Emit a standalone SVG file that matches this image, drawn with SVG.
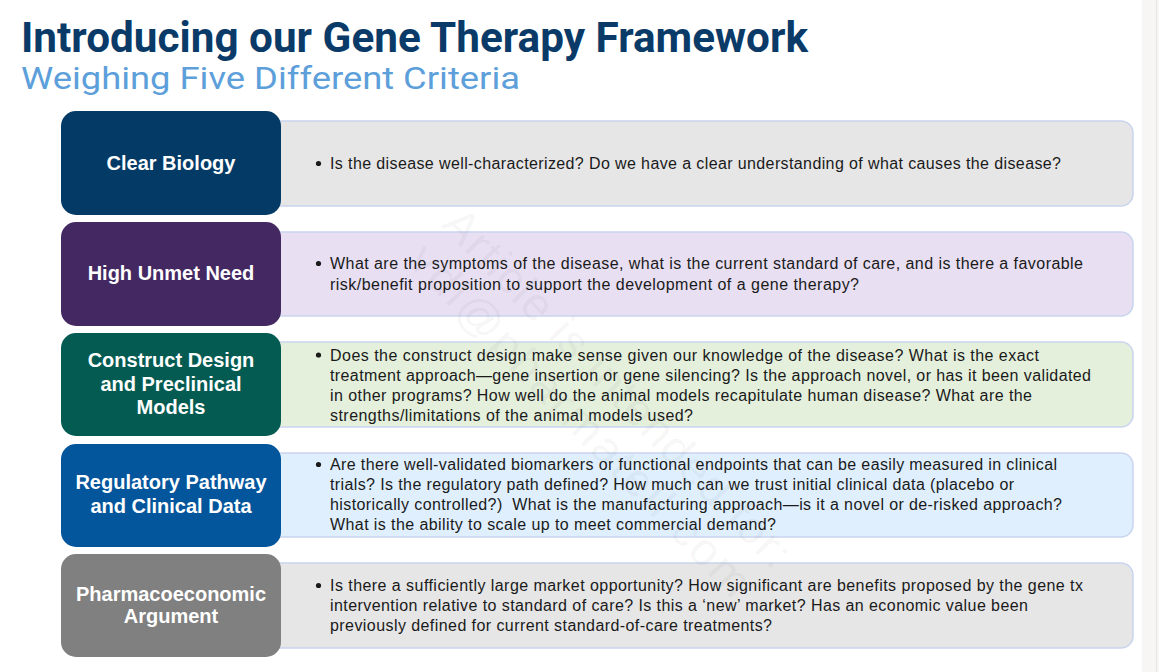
<svg xmlns="http://www.w3.org/2000/svg" width="1159" height="672" viewBox="0 0 1159 672">
<style>
.title{font-family:Roboto,"Liberation Sans",Arial,sans-serif;font-weight:700;font-size:42px;fill:#0a3a68}
.sub{font-family:Roboto,"Liberation Sans",Arial,sans-serif;font-weight:400;font-size:32px;fill:#5d9fda}
.lbl{font-family:"Liberation Sans",Arial,sans-serif;font-weight:700;font-size:20px;fill:#ffffff;text-anchor:middle}
.body{font-family:"Liberation Sans",Arial,sans-serif;font-size:16px;fill:#1a1a1a}
.card{stroke:#c9d5ee;stroke-width:1.5}
.wm{font-family:"Liberation Sans",Arial,sans-serif;font-size:46px;fill:#000000;fill-opacity:0.05}
</style>
<rect width="1159" height="672" fill="#ffffff"/>
<rect x="1142" y="0" width="17" height="672" fill="#f7f6f5"/>
<line x1="1156.5" y1="0" x2="1156.5" y2="672" stroke="#e6e5e3" stroke-width="1"/>

<g id="header">
<text class="title" x="21" y="52" textLength="787" lengthAdjust="spacingAndGlyphs">Introducing our Gene Therapy Framework</text>
<text class="sub" x="21" y="89" textLength="499" lengthAdjust="spacingAndGlyphs">Weighing Five Different Criteria</text>
</g>

<g id="row-clear-biology">
<rect class="card" x="262" y="121" width="871" height="85" rx="12" fill="#e6e6e6"/>
<rect x="61" y="111" width="220" height="104" rx="15" fill="#033a66"/>
<text class="lbl" x="171" y="170">Clear Biology</text>
<circle cx="318.5" cy="163.5" r="2.6" fill="#1a1a1a"/>
<text class="body" x="330" y="169" textLength="731">Is the disease well-characterized? Do we have a clear understanding of what causes the disease?</text>
</g>

<g id="row-high-unmet-need">
<rect class="card" x="262" y="232" width="871" height="84" rx="12" fill="#e8dff2"/>
<rect x="61" y="222" width="220" height="104" rx="15" fill="#432862"/>
<text class="lbl" x="171" y="280">High Unmet Need</text>
<circle cx="318.5" cy="263.5" r="2.6" fill="#1a1a1a"/>
<text class="body" x="330" y="269" textLength="753">What are the symptoms of the disease, what is the current standard of care, and is there a favorable</text>
<text class="body" x="330" y="290" textLength="529">risk/benefit proposition to support the development of a gene therapy?</text>
</g>

<g id="row-construct-design">
<rect class="card" x="262" y="342" width="871" height="85" rx="12" fill="#e4f0dc"/>
<rect x="61" y="333" width="220" height="103" rx="15" fill="#045b52"/>
<text class="lbl" x="171" y="367">Construct Design</text>
<text class="lbl" x="171" y="391">and Preclinical</text>
<text class="lbl" x="171" y="414">Models</text>
<circle cx="318.5" cy="355" r="2.6" fill="#1a1a1a"/>
<text class="body" x="330" y="360.5" textLength="709">Does the construct design make sense given our knowledge of the disease? What is the exact</text>
<text class="body" x="330" y="380.5" textLength="761">treatment approach—gene insertion or gene silencing? Is the approach novel, or has it been validated</text>
<text class="body" x="330" y="400.5" textLength="702">in other programs? How well do the animal models recapitulate human disease? What are the</text>
<text class="body" x="330" y="420.5" textLength="363">strengths/limitations of the animal models used?</text>
</g>

<g id="row-regulatory-pathway">
<rect class="card" x="262" y="453" width="871" height="84" rx="12" fill="#dfeffd"/>
<rect x="61" y="444" width="220" height="103" rx="15" fill="#03559c"/>
<text class="lbl" x="171" y="489">Regulatory Pathway</text>
<text class="lbl" x="171" y="513">and Clinical Data</text>
<circle cx="318.5" cy="464.5" r="2.6" fill="#1a1a1a"/>
<text class="body" x="330" y="470" textLength="727">Are there well-validated biomarkers or functional endpoints that can be easily measured in clinical</text>
<text class="body" x="330" y="490" textLength="684">trials? Is the regulatory path defined? How much can we trust initial clinical data (placebo or</text>
<text class="body" x="330" y="510" textLength="732" xml:space="preserve">historically controlled?)  What is the manufacturing approach—is it a novel or de-risked approach?</text>
<text class="body" x="330" y="530" textLength="446">What is the ability to scale up to meet commercial demand?</text>
</g>

<g id="row-pharmacoeconomic">
<rect class="card" x="262" y="563" width="871" height="85" rx="12" fill="#e6e6e6"/>
<rect x="61" y="554" width="220" height="103" rx="15" fill="#808080"/>
<text class="lbl" x="171" y="601">Pharmacoeconomic</text>
<text class="lbl" x="171" y="623">Argument</text>
<circle cx="318.5" cy="585.5" r="2.6" fill="#1a1a1a"/>
<text class="body" x="330" y="591" textLength="753">Is there a sufficiently large market opportunity? How significant are benefits proposed by the gene tx</text>
<text class="body" x="330" y="611" textLength="698">intervention relative to standard of care? Is this a ‘new’ market? Has an economic value been</text>
<text class="body" x="330" y="631" textLength="442">previously defined for current standard-of-care treatments?</text>
</g>

<g id="watermark">
<text class="wm" x="440" y="226" transform="rotate(46 440 226)" textLength="480">Article is intended for:</text>
<text class="wm" x="406" y="262" transform="rotate(46 406 262)" textLength="470">vdl@pharmatell.com</text>
</g>
</svg>
